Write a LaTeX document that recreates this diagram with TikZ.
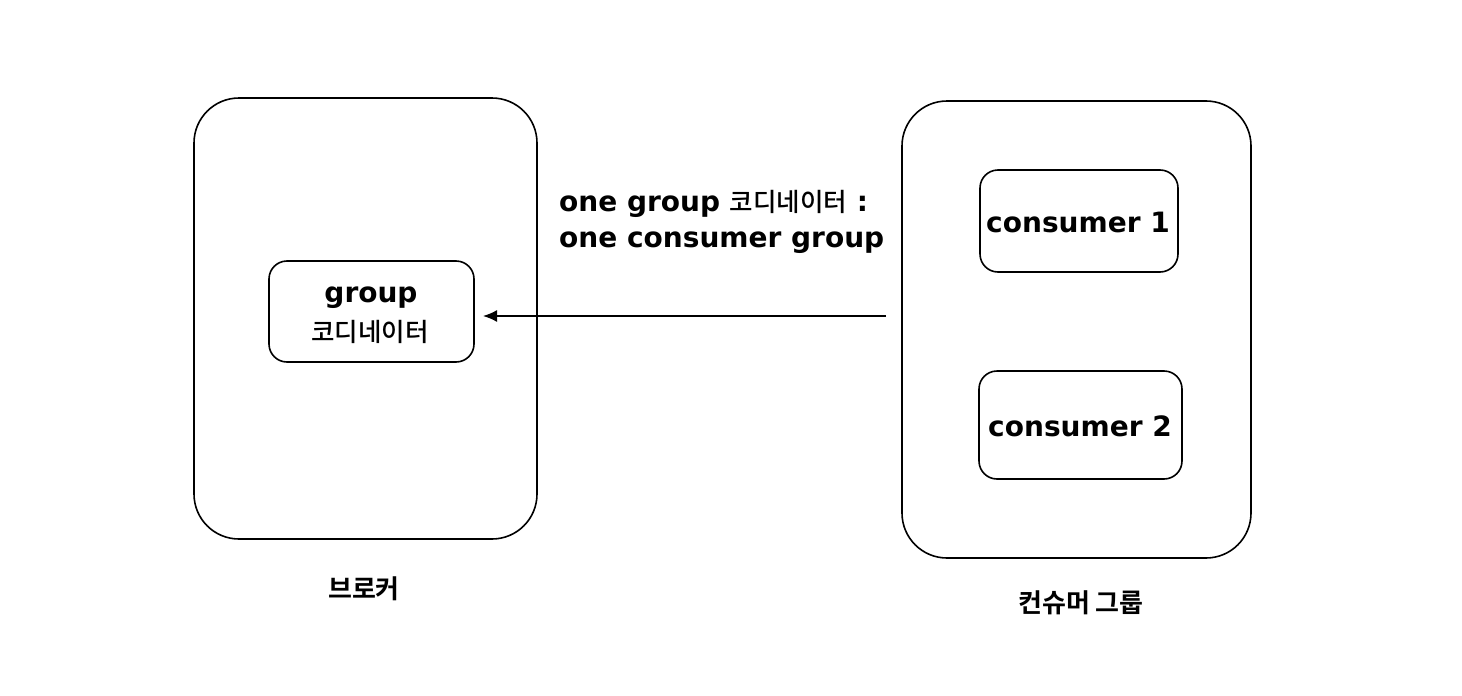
\documentclass[tikz,border=0pt]{standalone}
\usepackage{fontspec}
\setmainfont{DejaVu Sans}
\newfontfamily\krm{Noto Sans CJK KR Medium}
\newfontfamily\krb{Noto Sans CJK KR Bold}
\usetikzlibrary{arrows.meta}
\begin{document}
\begin{tikzpicture}[x=1pt,y=-1pt,
  bigbox/.style={draw, line width=1.6pt, rounded corners=45pt},
  smallbox/.style={draw, line width=1.6pt, rounded corners=18pt},
  lbl/.style={font=\bfseries\fontsize{28}{30}\selectfont, inner sep=0pt},
  krl/.style={font=\krb\fontsize{26}{28}\selectfont, inner sep=0pt}]
\useasboundingbox (0,0) rectangle (1462,696);
\draw[bigbox] (194,98) rectangle (537,539);
\draw[bigbox] (902,101) rectangle (1251,558);
\node[smallbox, minimum width=205pt, minimum height=101pt] (grp) at (371.5,311.5) {};
\node[lbl] (grpt) at (371,298) {group};
\node[font=\krm\mdseries\fontsize{25.5}{27}\selectfont, inner sep=0pt] (grpk) at (370,332) {코디네이터};
\node[smallbox, minimum width=198pt, minimum height=102pt] (c1) at (1079,221) {};
\node[lbl] (c1t) at (1078,222) {consumer 1};
\node[smallbox, minimum width=203pt, minimum height=108pt] (c2) at (1080.5,425) {};
\node[lbl] (c2t) at (1080,426) {consumer 2};
\node[krl] (brk) at (364,589) {브로커};
\node[krl] (cg) at (1081,603) {컨슈머 그룹};
\node[anchor=west, inner sep=0pt, font=\bfseries\fontsize{28}{30}\selectfont] (h1) at (559,204) {one group {\mdseries\krm\fontsize{25.5}{27}\selectfont 코디네이터} :};
\node[anchor=west, inner sep=0pt, font=\bfseries\fontsize{28}{30}\selectfont] (h2) at (559,243) {one consumer group};
\coordinate (as) at (886,316);
\coordinate (ae) at (483,316);
\draw[line width=1.6pt, -{Latex[length=14pt,width=12pt]}] (as) -- (ae);
\end{tikzpicture}
\end{document}
